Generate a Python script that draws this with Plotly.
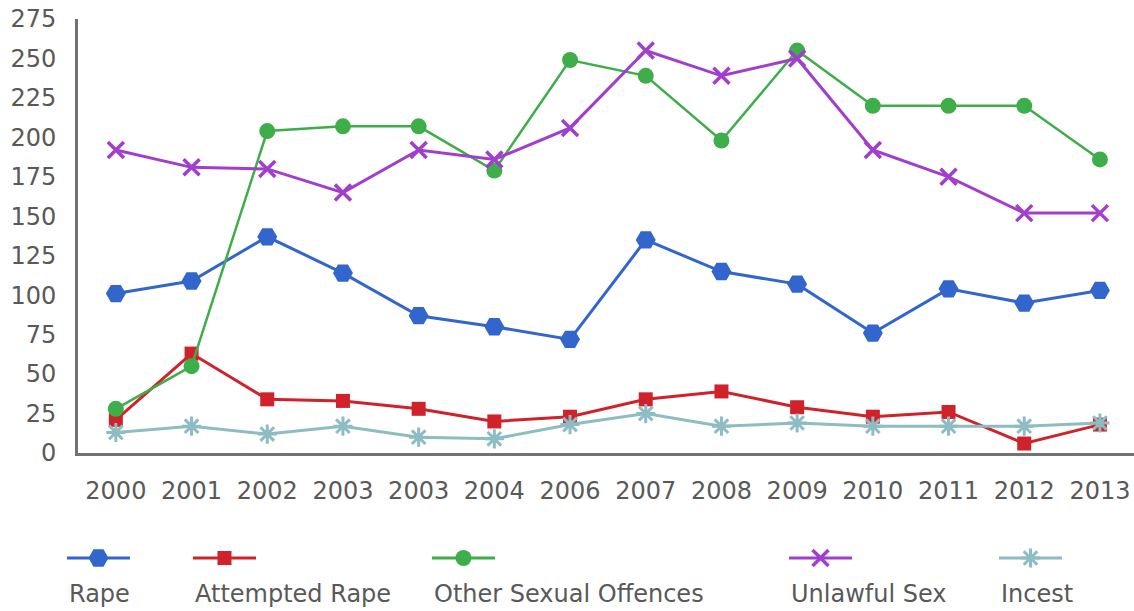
import plotly.graph_objects as go

# Reported offences by year
years = ["2000", "2001", "2002", "2003", "2003", "2004", "2006",
         "2007", "2008", "2009", "2010", "2011", "2012", "2013"]
rape = [101, 109, 137, 114, 87, 80, 72, 135, 115, 107, 76, 104, 95, 103]
attempted_rape = [21, 63, 34, 33, 28, 20, 23, 34, 39, 29, 23, 26, 6, 18]
other_offences = [28, 55, 204, 207, 207, 179, 249, 239, 198, 255, 220, 220, 220, 186]
unlawful_sex = [192, 181, 180, 165, 192, 186, 206, 255, 239, 250, 192, 175, 152, 152]
incest = [13, 17, 12, 17, 10, 9, 18, 25, 17, 19, 17, 17, 17, 19]

y_ticks = list(range(0, 276, 25))

W, H = 1134, 611
FONT = "DejaVu Sans"
TEXT = "#595959"
AXIS = "#767171"

series = [
    ("Rape", rape, "#3366CC", dict(symbol="hexagon2", size=20), 3),
    ("Attempted Rape", attempted_rape, "#D0222A", dict(symbol="square", size=14), 3),
    ("Other Sexual Offences", other_offences, "#3EAE4A", dict(symbol="circle", size=16), 2.5),
    ("Unlawful Sex", unlawful_sex, "#A23ECC",
     dict(symbol="x-thin-open", size=16, line=dict(width=3.5)), 3),
    ("Incest", incest, "#8DBCC2",
     dict(symbol="asterisk-open", size=16, line=dict(width=3)), 3),
]

idx = list(range(len(years)))

fig = go.Figure()
for name, vals, color, mk, lw in series:
    marker = dict(mk, color=color)
    if "line" in marker:
        marker["line"] = dict(marker["line"], color=color)
    fig.add_trace(go.Scatter(
        x=idx, y=vals, name=name, mode="lines+markers",
        line=dict(color=color, width=lw), marker=marker,
        showlegend=False, hoverinfo="skip",
    ))

# Legend row: sample line with centred marker, label underneath
legend_left = [67, 193, 432, 789, 999]
sample_len = 63
sample_y = 558
label_y = 594
for (name, vals, color, mk, lw), x0 in zip(series, legend_left):
    fig.add_trace(go.Scatter(
        x=[x0, x0 + sample_len], y=[sample_y, sample_y], mode="lines",
        line=dict(color=color, width=3), xaxis="x2", yaxis="y2",
        showlegend=False, hoverinfo="skip",
    ))
    marker = dict(mk, color=color)
    if "line" in marker:
        marker["line"] = dict(marker["line"], color=color)
    fig.add_trace(go.Scatter(
        x=[x0 + sample_len / 2], y=[sample_y], mode="markers", marker=marker,
        xaxis="x2", yaxis="y2", showlegend=False, hoverinfo="skip",
    ))
    fig.add_annotation(
        x=x0, y=label_y, xref="x2", yref="y2", text=name, showarrow=False,
        xanchor="left", yanchor="middle",
        font=dict(family=FONT, size=24, color=TEXT),
    )

fig.update_layout(
    width=W, height=H,
    margin=dict(l=0, r=0, t=0, b=0),
    paper_bgcolor="white", plot_bgcolor="rgba(0,0,0,0)",
    font=dict(family=FONT, size=24, color=TEXT),
    xaxis=dict(
        domain=[78 / W, 1], range=[-0.5, 13.45],
        tickmode="array", tickvals=idx, ticktext=years,
        showgrid=False, zeroline=False, showline=True,
        linecolor=AXIS, linewidth=3, ticks="",
        ticklabelstandoff=14, automargin=False,
        tickfont=dict(family=FONT, size=24, color=TEXT),
        fixedrange=True,
    ),
    yaxis=dict(
        domain=[(H - 453) / H, (H - 19) / H], range=[0, 275],
        tickmode="array", tickvals=y_ticks,
        showgrid=False, zeroline=False, showline=True,
        linecolor=AXIS, linewidth=3, ticks="",
        ticklabelstandoff=14, automargin=False,
        tickfont=dict(family=FONT, size=24, color=TEXT),
        fixedrange=True,
    ),
    xaxis2=dict(domain=[0, 1], range=[0, W], visible=False, fixedrange=True),
    yaxis2=dict(domain=[0, 1], range=[H, 0], visible=False, fixedrange=True,
                anchor="x2"),
)

fig.write_html("out.html")
